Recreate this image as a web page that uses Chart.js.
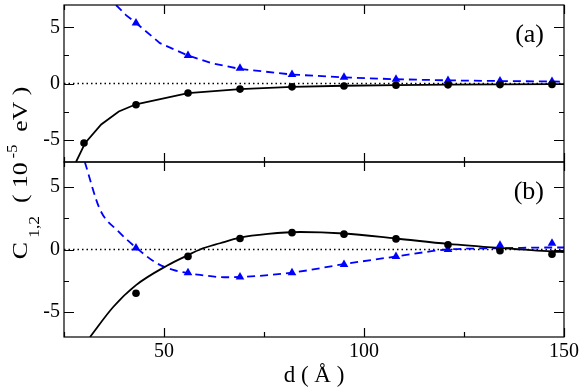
<!DOCTYPE html>
<html>
<head>
<meta charset="utf-8">
<script src="https://cdn.jsdelivr.net/npm/chart.js@4"></script>
<style>
  html, body { margin: 0; padding: 0; background: #fff; }
  #wrap { position: relative; width: 581px; height: 390px; }
  #wrap canvas { position: absolute; left: 0; top: 0; }
</style>
</head>
<body>
<div id="wrap">
  <canvas id="topChart" width="581" height="390"></canvas>
  <canvas id="bottomChart" width="581" height="390"></canvas>
</div>
<script>
// axis ticks
const xTickVals = [25, 50, 75, 100, 125, 150];
const xLabelVals = [50, 100, 150];
const yTickVals = [-5, -2.5, 0, 2.5, 5];
const yLabelVals = [-5, 0, 5];
const panelLabels = ['(a)', '(b)'];
const xTitle = 'd ( \u00C5 )';
const yTitleParts = [['C', 'main'], [' 1,2', 'sub'], ['  ( 10', 'main'], [' -5', 'sup'], ['  eV )', 'main']];

// zero reference line
const zeroX = [25, 150];
const zeroY = [0, 0];

// panel (a)
const topCircleX = [30, 43, 56, 69, 82, 95, 108, 121, 134, 147];
const topCircles = [-5.3, -1.9, -0.85, -0.5, -0.3, -0.22, -0.16, -0.12, -0.1, -0.08];
const topTriX = [43, 56, 69, 82, 95, 108, 121, 134, 147];
const topTriangles = [5.4, 2.5, 1.35, 0.8, 0.55, 0.38, 0.27, 0.22, 0.18];
const topBlackX = [28, 30.3, 34.3, 38.7, 43, 56, 69, 82, 95, 108, 121, 134, 147, 150];
const topBlackY = [-7, -5.3, -3.65, -2.5, -1.85, -0.85, -0.5, -0.3, -0.2, -0.15, -0.1, -0.08, -0.06, -0.05];
const topBlueX = [38, 40.5, 43, 49, 56, 62, 69, 82, 95, 108, 121, 134, 147, 150];
const topBlueY = [7, 6.1, 5.4, 3.6, 2.5, 1.8, 1.3, 0.8, 0.55, 0.38, 0.28, 0.22, 0.18, 0.17];

// panel (b)
const botCircleX = [43, 56, 69, 82, 95, 108, 121, 134, 147];
const botCircles = [-3.5, -0.55, 0.88, 1.35, 1.23, 0.85, 0.38, -0.1, -0.37];
const botTriX = [43, 56, 69, 82, 95, 108, 121, 134, 147];
const botTriangles = [0.12, -1.85, -2.2, -1.85, -1.2, -0.55, 0.0, 0.35, 0.5];
const botBlackX = [31.5, 37.3, 43, 50.7, 56, 59, 64, 69, 76, 84, 95, 108, 121, 134, 147, 150];
const botBlackY = [-7, -4.6, -2.85, -1.3, -0.45, 0, 0.5, 0.95, 1.25, 1.4, 1.28, 0.88, 0.45, 0.12, -0.16, -0.2];
const botBlueX = [30.2, 34, 38.6, 43.2, 48.2, 52.3, 56.2, 59, 65, 69, 82, 95, 108, 121, 134, 147, 150];
const botBlueY = [7, 3.2, 1.45, 0.1, -1.1, -1.63, -1.9, -2.03, -2.22, -2.2, -1.85, -1.17, -0.56, 0, 0.1, 0.16, 0.16];

const BLUE = '#0000ff';
const SERIF = '"Liberation Serif", "Times New Roman", serif';

Chart.defaults.font.family = SERIF;
Chart.defaults.font.size = 20;
Chart.defaults.color = '#000';

const pts = (xs, ys) => xs.map((x, i) => ({x: x, y: ys[i]}));

// frame, inward ticks, panel label
const framePlugin = {
    id: 'frame',
    afterDatasetsDraw(chart, args, opts) {
        const {ctx, chartArea: a} = chart;
        const x = chart.scales.x, y = chart.scales.y;
        ctx.save();
        ctx.strokeStyle = '#000';
        ctx.lineWidth = 1.2;
        ctx.beginPath();
        xTickVals.forEach(v => {
            const px = Math.round(x.getPixelForValue(v)) + 0.5;
            const len = xLabelVals.includes(v) ? 9 : 5;
            ctx.moveTo(px, a.top); ctx.lineTo(px, a.top + len);
            ctx.moveTo(px, a.bottom); ctx.lineTo(px, a.bottom - len);
        });
        yTickVals.forEach(v => {
            const py = Math.round(y.getPixelForValue(v)) + 0.5;
            const len = yLabelVals.includes(v) ? 10 : 5;
            ctx.moveTo(a.left, py); ctx.lineTo(a.left + len, py);
            ctx.moveTo(a.right, py); ctx.lineTo(a.right - len, py);
        });
        ctx.stroke();
        ctx.strokeRect(a.left, a.top, a.right - a.left, a.bottom - a.top);
        ctx.fillStyle = '#000';
        ctx.font = '26px ' + SERIF;
        ctx.textAlign = 'right';
        ctx.textBaseline = 'middle';
        ctx.fillText(opts.label, a.right - 20, a.top + 30);
        ctx.restore();
    }
};

// rotated y title with sub/superscript
const yTitlePlugin = {
    id: 'ytitle',
    afterDraw(chart, args, opts) {
        if (!opts.show) return;
        const ctx = chart.ctx;
        const styles = {
            main: {size: 22, dy: 0},
            sub: {size: 15, dy: 12},
            sup: {size: 14, dy: -10}
        };
        const stretch = 1.17;
        ctx.save();
        ctx.fillStyle = '#000';
        ctx.textBaseline = 'alphabetic';
        ctx.textAlign = 'left';
        let total = 0;
        yTitleParts.forEach(([t, k]) => {
            ctx.font = styles[k].size + 'px ' + SERIF;
            total += ctx.measureText(t).width;
        });
        ctx.translate(opts.x, opts.y);
        ctx.rotate(-Math.PI / 2);
        ctx.scale(stretch, 1);
        let cx = -total / 2;
        yTitleParts.forEach(([t, k]) => {
            ctx.font = styles[k].size + 'px ' + SERIF;
            ctx.fillText(t, cx, styles[k].dy);
            cx += ctx.measureText(t).width;
        });
        ctx.restore();
    }
};

function makePanel(canvasId, d, opts) {
    const datasets = [
        {data: pts(zeroX, zeroY), showLine: true, borderColor: '#000', borderWidth: 1.5,
         borderDash: [1.5, 3], pointRadius: 0, order: 3},
        {data: pts(d.blackX, d.blackY), showLine: true, borderColor: '#000', borderWidth: 1.8,
         pointRadius: 0, cubicInterpolationMode: d.smooth ? 'monotone' : 'default', order: 2},
        {data: pts(d.blueX, d.blueY), showLine: true, borderColor: BLUE, borderWidth: 1.8,
         borderDash: [8, 5], pointRadius: 0, cubicInterpolationMode: d.smooth ? 'monotone' : 'default', order: 2},
        {data: pts(d.circleX, d.circles), showLine: false, pointStyle: 'circle', pointRadius: 3.8,
         backgroundColor: '#000', borderColor: '#000', borderWidth: 0, order: 1},
        {data: pts(d.triX, d.triangles), showLine: false, pointStyle: 'triangle', pointRadius: 5,
         backgroundColor: BLUE, borderColor: BLUE, borderWidth: 0, order: 1}
    ];
    return new Chart(document.getElementById(canvasId), {
        type: 'scatter',
        data: {datasets: datasets},
        plugins: [framePlugin, yTitlePlugin],
        options: {
            responsive: false,
            animation: false,
            layout: {padding: opts.padding},
            plugins: {
                legend: {display: false},
                tooltip: {enabled: false},
                frame: {label: opts.label},
                ytitle: {show: !!opts.ytitle, x: 27, y: 173}
            },
            scales: {
                x: {
                    type: 'linear', min: 25, max: 150,
                    afterBuildTicks: s => { s.ticks = xTickVals.map(v => ({value: v})); },
                    afterFit: s => { s.height = opts.xHeight; s.paddingLeft = 0; s.paddingRight = 0; },
                    grid: {display: false, drawTicks: false},
                    border: {display: false},
                    ticks: {
                        display: opts.showX, padding: 3, maxRotation: 0, autoSkip: false,
                        callback: v => xLabelVals.includes(v) ? String(v) : ''
                    },
                    title: {display: opts.showX, text: xTitle, font: {size: 23}, padding: {top: 0, bottom: 0}}
                },
                y: {
                    type: 'linear', min: -7, max: 7,
                    afterBuildTicks: s => { s.ticks = yTickVals.map(v => ({value: v})); },
                    afterFit: s => { s.width = 64; s.paddingTop = 0; s.paddingBottom = 0; },
                    grid: {display: false, drawTicks: false},
                    border: {display: false},
                    ticks: {
                        padding: 4, autoSkip: false,
                        callback: v => yLabelVals.includes(v) ? String(v) : ''
                    }
                }
            }
        }
    });
}

makePanel('topChart', {
    blackX: topBlackX, blackY: topBlackY, blueX: topBlueX, blueY: topBlueY,
    circleX: topCircleX, circles: topCircles, triX: topTriX, triangles: topTriangles, smooth: false
}, {padding: {top: 2, bottom: 228, left: 0, right: 17}, xHeight: 0, showX: false, label: panelLabels[0]});

makePanel('bottomChart', {
    blackX: botBlackX, blackY: botBlackY, blueX: botBlueX, blueY: botBlueY,
    circleX: botCircleX, circles: botCircles, triX: botTriX, triangles: botTriangles, smooth: true
}, {padding: {top: 162, bottom: 0, left: 0, right: 17}, xHeight: 53, showX: true, label: panelLabels[1], ytitle: true});
</script>
</body>
</html>
